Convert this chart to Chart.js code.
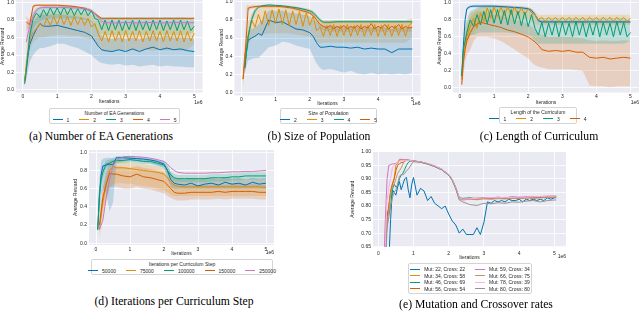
<!DOCTYPE html>
<html lang="en">
<head>
<meta charset="UTF-8">
<title>Ablation curves</title>
<script src="https://cdn.jsdelivr.net/npm/chart.js@4"></script>
<style>
body {
  margin: 0;
  width: 640px;
  height: 315px;
  overflow: hidden;
  background: #fff;
  position: relative;
  font-family: "Liberation Sans", Arial, sans-serif;
}
canvas { position: absolute; }
.legend {
  position: absolute;
  box-sizing: border-box;
  border: 1px solid #d4d4d4;
  border-radius: 2px;
  background: rgba(255, 255, 255, 0.85);
  font-size: 5px;
  line-height: 6.5px;
  color: #262626;
  text-align: center;
  padding-top: 1px;
  white-space: nowrap;
}
.legend .items { display: flex; flex-wrap: nowrap; justify-content: center; gap: 10px; }
.legend .items span { flex: 0 0 auto; }
.legend .grid { display: grid; grid-template-rows: repeat(4, 6.5px); grid-auto-flow: column; column-gap: 10px; justify-content: center; text-align: left; padding-top: 1px; }
.legend i { display: inline-block; width: 10px; height: 1.2px; margin-right: 4px; vertical-align: middle; position: relative; top: -0.5px; }
.cap {
  position: absolute;
  font-family: "Liberation Serif", "Times New Roman", serif;
  font-size: 11.7px;
  line-height: 1;
  color: #000;
  white-space: nowrap;
  transform: translate(-50%, -50%);
}
</style>
</head>
<body>
<script>
// ticks
const ITER_TICKS = [0, 1, 2, 3, 4, 5];
const REWARD_TICKS = [0, 0.2, 0.4, 0.6, 0.8, 1.0];
const REWARD_TICKS_E = [0.65, 0.70, 0.75, 0.80, 0.85, 0.90, 0.95, 1.00];

// iteration checkpoints (x 1e6)
const XB = [0.05,0.1,0.15,0.2,0.3,0.4,0.5,0.6, 0.8,1.0,1.2,1.4,1.6,1.8,2.0,2.1, 2.2,2.3,2.4,2.6,2.8,3.0,3.2,3.4, 3.6,3.8,4.0,4.2,4.4,4.6,4.8,5.0];
const XZ = [0.05,0.1,0.2,0.3,0.4,0.5,0.6,0.7,0.8,0.9, 1.0,1.1,1.2,1.3,1.4,1.5,1.6,1.7,1.8,1.9, 2.0,2.1,2.2,2.3,2.4,2.5,2.6,2.7,2.8,2.9, 3.0,3.1,3.2,3.3,3.4,3.5,3.6,3.7,3.8,3.9, 4.0,4.1,4.2,4.3,4.4,4.5,4.6,4.7,4.8,4.9, 5.0];
const XE = [0.15,0.2,0.25,0.3,0.35,0.4,0.45,0.5,0.55,0.6,0.65,0.7,0.75,0.8,0.85,0.9,0.95,1.0, 1.2,1.4,1.6,1.8,2.0,2.1,2.2,2.3,2.4,2.6,2.8,3.0,3.2,3.4,3.6,3.8,4.0,4.2,4.4,4.6,4.8,5.0,5.05];
const XEB = [0.15,0.2,0.25,0.3,0.35,0.4,0.45,0.5,0.55,0.6,0.65,0.7,0.75,0.8,0.85,0.9,0.95,1.0, 1.1,1.2,1.3,1.4,1.5,1.6,1.7,1.8,1.9,2.0, 2.1,2.2,2.3,2.4,2.5,2.6,2.7,2.8,2.9,3.0, 3.1,3.2,3.3,3.4,3.5,3.6,3.7,3.8,3.9,4.0, 4.1,4.2,4.3,4.4,4.5,4.6,4.7,4.8,4.9,5.0,5.05];

// (a) number of EA generations
const A_LABELS = ['1', '2', '3', '4', '5'];
const A1 = [0.10,0.25,0.40,0.52,0.62,0.70,0.76,0.73, 0.73,0.74,0.72,0.70,0.68,0.66,0.62,0.56, 0.50,0.46,0.45,0.44,0.46,0.44,0.47,0.44, 0.47,0.49,0.46,0.48,0.46,0.47,0.45,0.44];
const A1_LO = [0.05,0.12,0.22,0.32,0.40,0.45,0.48,0.48, 0.50,0.53,0.53,0.50,0.48,0.44,0.40,0.36, 0.33,0.31,0.30,0.29,0.30,0.28,0.29,0.27, 0.28,0.29,0.27,0.28,0.27,0.27,0.26,0.26];
const A1_HI = [0.15,0.38,0.55,0.68,0.78,0.83,0.86,0.86, 0.86,0.87,0.86,0.85,0.84,0.82,0.80,0.74, 0.68,0.62,0.60,0.58,0.60,0.58,0.60,0.58, 0.60,0.62,0.60,0.62,0.60,0.60,0.60,0.58];
const A2 = [0.10,0.28, 0.58,0.66,0.70,0.76,0.72,0.82,0.74,0.84, 0.75,0.85,0.75,0.84,0.74,0.84,0.75,0.83,0.74,0.82, 0.72,0.76,0.64,0.56,0.67,0.55,0.68,0.56,0.67,0.55, 0.68,0.56,0.67,0.56,0.68,0.55,0.67,0.56,0.68,0.56, 0.67,0.55,0.68,0.56,0.67,0.56,0.68,0.55,0.67,0.56, 0.65];
const A2_LO = [0.05,0.15,0.30,0.45,0.55,0.58,0.60,0.60, 0.62,0.63,0.63,0.62,0.62,0.60,0.58,0.55, 0.50,0.45,0.45,0.45,0.46,0.45,0.46,0.45, 0.46,0.45,0.46,0.45,0.46,0.45,0.46,0.52];
const A2_HI = [0.15,0.40,0.60,0.72,0.82,0.85,0.88,0.88, 0.90,0.90,0.90,0.90,0.89,0.88,0.86,0.84, 0.80,0.75,0.74,0.74,0.74,0.74,0.74,0.74, 0.74,0.74,0.74,0.74,0.74,0.74,0.74,0.74];
const A3 = [0.07,0.22, 0.62,0.82,0.88,0.83,0.92,0.85,0.94,0.86, 0.94,0.86,0.95,0.86,0.94,0.85,0.93,0.86,0.93,0.85, 0.91,0.82,0.80,0.69,0.80,0.68,0.80,0.69,0.80,0.68, 0.79,0.69,0.80,0.68,0.80,0.69,0.79,0.68,0.80,0.69, 0.80,0.68,0.79,0.69,0.80,0.68,0.80,0.69,0.79,0.68, 0.73];
const A3_LO = [0.03,0.15,0.35,0.50,0.70,0.76,0.78,0.80, 0.82,0.82,0.82,0.82,0.82,0.80,0.78,0.72, 0.66,0.64,0.63,0.63,0.63,0.63,0.63,0.63, 0.63,0.63,0.63,0.63,0.63,0.63,0.63,0.66];
const A3_HI = [0.12,0.30,0.50,0.72,0.88,0.93,0.95,0.96, 0.96,0.96,0.96,0.96,0.95,0.95,0.93,0.88, 0.85,0.83,0.83,0.83,0.83,0.83,0.83,0.83, 0.83,0.83,0.83,0.83,0.83,0.83,0.83,0.80];
const A4 = [null,0.78,0.76,0.75,0.96,0.97,0.97,0.97, 0.97,0.97,0.965,0.96,0.95,0.935,0.905,0.875, 0.845,0.82,0.82,0.82,0.82,0.82,0.82,0.82, 0.82,0.82,0.82,0.82,0.82,0.82,0.82,0.82];
const A4_LO = [null,0.68,0.70,0.70,0.93,0.96,0.96,0.96, 0.96,0.96,0.955,0.95,0.94,0.92,0.89,0.86, 0.83,0.80,0.80,0.80,0.80,0.80,0.80,0.80, 0.80,0.80,0.80,0.80,0.80,0.80,0.80,0.80];
const A4_HI = [null,0.85,0.82,0.80,0.975,0.98,0.98,0.98, 0.98,0.98,0.975,0.97,0.96,0.945,0.915,0.885, 0.855,0.83,0.83,0.835,0.83,0.835,0.83,0.835, 0.83,0.835,0.83,0.835,0.83,0.835,0.83,0.835];
const A5 = [null,0.55,0.65,0.72,0.85,0.92,0.94,0.945, 0.945,0.945,0.945,0.94,0.94,0.93,0.905,0.87, 0.83,0.785,0.77,0.77,0.765,0.775,0.77,0.765, 0.775,0.77,0.77,0.765,0.775,0.77,0.77,0.77];
const A5_LO = [null,0.45,0.55,0.62,0.78,0.88,0.92,0.93, 0.93,0.93,0.93,0.925,0.92,0.91,0.88,0.84, 0.80,0.75,0.74,0.74,0.735,0.745,0.74,0.735, 0.745,0.74,0.74,0.735,0.745,0.74,0.74,0.74];
const A5_HI = [null,0.78,0.80,0.82,0.90,0.95,0.955,0.96, 0.96,0.96,0.96,0.955,0.955,0.945,0.925,0.895, 0.86,0.815,0.80,0.80,0.795,0.805,0.80,0.795, 0.805,0.80,0.80,0.795,0.805,0.80,0.80,0.80];

// (b) size of population
const B_LABELS = ['2', '3', '4', '5'];
const B2 = [null,0.27,0.45,0.58,0.60,0.62,0.65,0.63, 0.80,0.77,0.78,0.74,0.70,0.69,0.66,0.62, 0.55,0.50,0.50,0.51,0.50,0.50,0.49,0.50, 0.48,0.49,0.48,0.48,0.44,0.48,0.48,0.48];
const B2_LO = [null,0.20,0.30,0.35,0.37,0.38,0.38,0.42, 0.50,0.52,0.56,0.55,0.52,0.50,0.48,0.40, 0.32,0.27,0.25,0.26,0.24,0.22,0.24,0.21, 0.20,0.22,0.20,0.21,0.20,0.21,0.20,0.22];
const B2_HI = [null,0.32,0.55,0.68,0.70,0.72,0.75,0.80, 0.90,0.90,0.90,0.88,0.87,0.86,0.84,0.80, 0.78,0.74,0.73,0.74,0.73,0.73,0.72,0.73, 0.72,0.72,0.72,0.72,0.70,0.72,0.72,0.72];
const B3 = [0.15,0.42, 0.62,0.80,0.72,0.86,0.75,0.90,0.74,0.91, 0.76,0.92,0.75,0.91,0.74,0.90,0.75,0.89,0.73,0.88, 0.74,0.84,0.68,0.72,0.62,0.74,0.63,0.75,0.62,0.74, 0.63,0.75,0.62,0.74,0.63,0.75,0.62,0.74,0.63,0.75, 0.62,0.74,0.63,0.75,0.62,0.74,0.63,0.75,0.62,0.74, 0.77];
const B3_LO = [0.05,0.25,0.40,0.50,0.60,0.62,0.64,0.64, 0.65,0.65,0.65,0.65,0.64,0.63,0.62,0.60, 0.56,0.54,0.55,0.55,0.55,0.55,0.55,0.55, 0.55,0.55,0.55,0.55,0.55,0.55,0.55,0.60];
const B3_HI = [0.20,0.50,0.70,0.78,0.88,0.92,0.94,0.95, 0.95,0.95,0.95,0.94,0.93,0.92,0.90,0.86, 0.82,0.80,0.80,0.80,0.80,0.80,0.80,0.80, 0.80,0.80,0.80,0.80,0.80,0.80,0.80,0.82];
const B4 = [null,0.27,0.45,0.62,0.80,0.90,0.94,0.955, 0.965,0.96,0.955,0.945,0.935,0.92,0.90,0.88, 0.84,0.80,0.775,0.775,0.78,0.78,0.78,0.78, 0.78,0.78,0.78,0.78,0.78,0.78,0.78,0.78];
const B4_LO = [null,0.20,0.38,0.55,0.75,0.87,0.925,0.94, 0.95,0.945,0.94,0.93,0.92,0.905,0.885,0.86, 0.82,0.78,0.76,0.76,0.765,0.765,0.765,0.765, 0.765,0.765,0.765,0.765,0.765,0.765,0.765,0.765];
const B4_HI = [null,0.32,0.52,0.68,0.85,0.93,0.955,0.965, 0.975,0.97,0.965,0.955,0.945,0.93,0.91,0.90, 0.86,0.82,0.79,0.79,0.795,0.795,0.795,0.795, 0.795,0.795,0.795,0.795,0.795,0.795,0.795,0.795];
const B5 = [0.15,0.35, 0.93,0.94,0.945,0.95,0.95,0.95,0.95,0.95, 0.95,0.948,0.945,0.94,0.935,0.93,0.92,0.91,0.90,0.89, 0.875,0.85,0.80,0.75,0.73,0.71,0.74,0.70,0.73,0.71, 0.74,0.70,0.73,0.71,0.74,0.70,0.73,0.71,0.76,0.70, 0.73,0.71,0.75,0.70,0.73,0.71,0.75,0.70,0.73,0.71, 0.72];
const B5_LO = [0.10,0.25,0.75,0.90,0.92,0.93,0.935,0.935, 0.935,0.935,0.93,0.92,0.90,0.88,0.86,0.83, 0.77,0.71,0.68,0.67,0.67,0.67,0.67,0.67, 0.67,0.67,0.67,0.67,0.67,0.67,0.67,0.67];
const B5_HI = [0.20,0.45,0.96,0.955,0.96,0.965,0.965,0.965, 0.965,0.965,0.96,0.955,0.945,0.935,0.92,0.895, 0.86,0.80,0.78,0.78,0.78,0.78,0.78,0.78, 0.78,0.78,0.78,0.78,0.78,0.78,0.78,0.78];

// (c) length of the curriculum
const C_LABELS = ['1', '2', '3', '4'];
const C1 = [0.14,0.50,0.80,0.93,0.955,0.96,0.96,0.96, 0.96,0.96,0.955,0.95,0.945,0.94,0.93,0.91, 0.86,0.79,0.775,0.775,0.775,0.775,0.775,0.775, 0.775,0.775,0.775,0.775,0.775,0.775,0.775,0.775];
const C1_LO = [0.10,0.45,0.75,0.91,0.94,0.945,0.945,0.945, 0.945,0.945,0.94,0.935,0.93,0.925,0.915,0.89, 0.84,0.77,0.76,0.76,0.76,0.76,0.76,0.76, 0.76,0.76,0.76,0.76,0.76,0.76,0.76,0.76];
const C1_HI = [0.18,0.55,0.85,0.95,0.97,0.975,0.975,0.975, 0.975,0.975,0.97,0.965,0.96,0.955,0.945,0.93, 0.88,0.81,0.79,0.79,0.79,0.79,0.79,0.79, 0.79,0.79,0.79,0.79,0.79,0.79,0.79,0.79];
const C2 = [0.10,0.35, 0.60,0.72,0.82,0.70,0.88,0.78,0.94,0.82, 0.95,0.84,0.95,0.85,0.95,0.86,0.95,0.86,0.94,0.86, 0.93,0.88,0.86,0.80,0.83,0.78,0.83,0.79,0.83,0.78, 0.83,0.79,0.83,0.78,0.83,0.79,0.83,0.78,0.83,0.79, 0.83,0.78,0.83,0.79,0.83,0.78,0.83,0.79,0.83,0.78, 0.82];
const C2_LO = [0.03,0.25,0.40,0.50,0.60,0.65,0.72,0.76, 0.78,0.80,0.80,0.80,0.80,0.80,0.80,0.78, 0.75,0.74,0.74,0.74,0.74,0.74,0.74,0.74, 0.74,0.74,0.74,0.74,0.74,0.74,0.74,0.74];
const C2_HI = [0.15,0.45,0.68,0.78,0.88,0.90,0.93,0.96, 0.97,0.97,0.97,0.97,0.965,0.96,0.95,0.93, 0.90,0.86,0.86,0.86,0.86,0.86,0.86,0.86, 0.86,0.86,0.86,0.86,0.86,0.86,0.86,0.86];
const C3 = [0.14,0.45, 0.65,0.80,0.72,0.86,0.74,0.90,0.75,0.92, 0.76,0.92,0.75,0.91,0.74,0.92,0.75,0.90,0.73,0.89, 0.72,0.86,0.70,0.62,0.77,0.60,0.76,0.62,0.78,0.60, 0.77,0.62,0.76,0.60,0.78,0.62,0.77,0.60,0.76,0.62, 0.78,0.60,0.77,0.62,0.76,0.60,0.78,0.62,0.77,0.60, 0.65];
const C3_LO = [0.08,0.35,0.50,0.55,0.62,0.62,0.64,0.65, 0.65,0.65,0.65,0.65,0.64,0.63,0.62,0.60, 0.55,0.52,0.52,0.52,0.52,0.52,0.52,0.52, 0.52,0.52,0.52,0.52,0.52,0.52,0.52,0.55];
const C3_HI = [0.20,0.55,0.72,0.80,0.90,0.92,0.94,0.95, 0.95,0.95,0.95,0.95,0.94,0.94,0.92,0.90, 0.85,0.82,0.82,0.82,0.82,0.82,0.82,0.82, 0.82,0.82,0.82,0.82,0.82,0.82,0.82,0.80];
const C4 = [0.04,0.30,0.45,0.55,0.65,0.72,0.75,0.77, 0.75,0.73,0.71,0.68,0.66,0.63,0.60,0.57, 0.54,0.50,0.45,0.43,0.44,0.43,0.44,0.42, 0.42,0.36,0.35,0.36,0.34,0.35,0.36,0.35];
const C4_LO = [0.00,0.15,0.30,0.38,0.45,0.55,0.60,0.60, 0.60,0.58,0.55,0.50,0.45,0.40,0.35,0.30, 0.27,0.25,0.24,0.22,0.22,0.22,0.22,0.21, 0.20,0.03,0.02,0.02,0.01,0.02,0.02,0.02];
const C4_HI = [0.08,0.45,0.60,0.72,0.82,0.87,0.90,0.90, 0.88,0.86,0.84,0.82,0.80,0.78,0.75,0.72, 0.68,0.64,0.62,0.60,0.60,0.60,0.60,0.59, 0.58,0.56,0.55,0.56,0.55,0.55,0.56,0.55];

// (d) iterations per curriculum step
const D_LABELS = ['50000', '75000', '100000', '150000', '250000'];
const D1 = [0.15,0.50,0.75,0.85,0.86,0.87,0.86,0.94, 0.94,0.935,0.93,0.925,0.915,0.90,0.87,0.80, 0.70,0.66,0.65,0.64,0.66,0.63,0.65,0.66, 0.64,0.67,0.65,0.66,0.64,0.67,0.65,0.66];
const D1_LO = [0.05,0.30,0.50,0.60,0.55,0.35,0.45,0.88, 0.90,0.90,0.90,0.89,0.88,0.86,0.83,0.72, 0.62,0.60,0.60,0.60,0.60,0.60,0.60,0.60, 0.60,0.60,0.60,0.60,0.60,0.60,0.60,0.60];
const D1_HI = [0.25,0.70,0.90,0.93,0.94,0.94,0.94,0.96, 0.96,0.955,0.95,0.945,0.935,0.92,0.90,0.86, 0.78,0.72,0.71,0.70,0.72,0.70,0.71,0.72, 0.70,0.73,0.71,0.72,0.70,0.72,0.71,0.72];
const D2 = [null,0.15,0.30,0.45,0.65,0.80,0.84,0.83, 0.83,0.82,0.81,0.80,0.79,0.78,0.76,0.72, 0.67,0.64,0.63,0.62,0.62,0.62,0.62,0.62, 0.62,0.62,0.62,0.62,0.62,0.62,0.62,0.61];
const D2_LO = [null,0.05,0.15,0.30,0.45,0.60,0.65,0.66, 0.66,0.65,0.64,0.63,0.62,0.60,0.58,0.56, 0.53,0.52,0.52,0.52,0.52,0.52,0.52,0.52, 0.52,0.52,0.52,0.52,0.52,0.52,0.52,0.52];
const D2_HI = [null,0.25,0.45,0.60,0.80,0.90,0.92,0.91, 0.90,0.89,0.88,0.87,0.86,0.85,0.83,0.80, 0.75,0.72,0.71,0.71,0.71,0.71,0.71,0.71, 0.71,0.71,0.71,0.71,0.71,0.71,0.71,0.70];
const D3 = [0.15,0.55,0.70,0.78,0.87,0.88,0.90,0.91, 0.91,0.92,0.91,0.90,0.90,0.88,0.86,0.80, 0.75,0.72,0.71,0.71,0.71,0.71,0.71,0.72, 0.72,0.72,0.73,0.73,0.74,0.74,0.74,0.74];
const D3_LO = [0.10,0.45,0.62,0.72,0.83,0.85,0.87,0.88, 0.88,0.89,0.88,0.87,0.87,0.85,0.83,0.76, 0.71,0.68,0.67,0.67,0.67,0.67,0.67,0.68, 0.68,0.68,0.69,0.69,0.70,0.70,0.70,0.70];
const D3_HI = [0.20,0.65,0.78,0.84,0.91,0.92,0.93,0.94, 0.94,0.95,0.94,0.93,0.93,0.91,0.89,0.84, 0.79,0.76,0.75,0.75,0.75,0.75,0.75,0.76, 0.76,0.76,0.77,0.77,0.78,0.78,0.78,0.78];
const D4 = [null,0.20,0.35,0.50,0.65,0.77,0.76,0.76, 0.74,0.73,0.76,0.73,0.72,0.70,0.68,0.64, 0.60,0.56,0.55,0.55,0.56,0.56,0.56,0.56, 0.57,0.56,0.57,0.57,0.57,0.57,0.56,0.56];
const D4_LO = [null,0.10,0.25,0.38,0.50,0.62,0.62,0.62, 0.60,0.60,0.62,0.60,0.59,0.57,0.55,0.52, 0.50,0.48,0.47,0.47,0.48,0.48,0.48,0.48, 0.49,0.48,0.49,0.49,0.49,0.49,0.48,0.48];
const D4_HI = [null,0.30,0.45,0.60,0.76,0.86,0.85,0.85, 0.84,0.83,0.85,0.83,0.82,0.80,0.78,0.74, 0.70,0.65,0.63,0.63,0.64,0.64,0.64,0.64, 0.65,0.64,0.65,0.65,0.65,0.65,0.64,0.64];
const D5 = [null,0.15,0.20,0.25,0.50,0.70,0.85,0.91, 0.95,0.955,0.95,0.945,0.935,0.92,0.90,0.87, 0.83,0.80,0.78,0.77,0.77,0.77,0.77,0.775, 0.775,0.78,0.785,0.785,0.79,0.79,0.795,0.80];

// (e) mutation and crossover rates
const E_LABELS = ['Mut: 22, Cross: 22', 'Mut: 34, Cross: 58', 'Mut: 46, Cross: 69', 'Mut: 56, Cross: 54',
                  'Mut: 59, Cross: 34', 'Mut: 66, Cross: 75', 'Mut: 78, Cross: 39', 'Mut: 80, Cross: 80'];
const E1 = [0.30,0.40,0.50,0.60,0.75,0.86,0.85,0.84,0.87,0.89,0.86,0.88,0.90,0.905,0.86,0.83,0.88,0.905, 0.84,0.865,0.855,0.82,0.835,0.81,0.80,0.79,0.80,0.77, 0.745,0.73,0.70,0.715,0.695,0.695,0.695,0.72,0.695,0.74, 0.815,0.81,0.82,0.815,0.82,0.815,0.825,0.82,0.82,0.825, 0.815,0.825,0.82,0.825,0.82,0.825,0.82,0.83,0.825,0.83,0.83];
const E2 = [0.50,0.60,0.75,0.80,0.86,0.88,0.90,0.95,0.955,0.97,0.97,0.97,0.97,0.969,0.968,0.967,0.966,0.965, 0.962,0.955,0.946,0.934,0.914,0.896,0.866,0.828,0.824,0.826,0.829,0.828,0.83,0.828,0.831,0.829,0.83,0.832,0.83,0.833,0.834,0.835,0.835];
const E3 = [0.45,0.60,0.78,0.77,0.80,0.86,0.88,0.87,0.875,0.90,0.915,0.92,0.935,0.95,0.96,0.965,0.966,0.966, 0.962,0.955,0.946,0.934,0.914,0.896,0.866,0.83,0.828,0.83,0.826,0.831,0.829,0.832,0.83,0.833,0.831,0.83,0.834,0.832,0.835,0.834,0.834];
const E4 = [0.50,0.65,0.76,0.80,0.85,0.88,0.90,0.93,0.95,0.955,0.96,0.96,0.965,0.97,0.969,0.968,0.967,0.966, 0.962,0.955,0.947,0.935,0.915,0.897,0.867,0.827,0.825,0.828,0.826,0.829,0.827,0.83,0.828,0.83,0.829,0.832,0.83,0.831,0.833,0.834,0.834];
const E5 = [0.55,0.75,0.90,0.95,0.952,0.955,0.955,0.957,0.96,0.972,0.972,0.971,0.97,0.97,0.969,0.968,0.967,0.966, 0.963,0.956,0.948,0.936,0.916,0.898,0.868,0.829,0.826,0.829,0.828,0.83,0.829,0.832,0.83,0.833,0.832,0.834,0.833,0.835,0.836,0.837,0.837];
const E6 = [0.50,0.62,0.74,0.78,0.85,0.87,0.88,0.90,0.92,0.93,0.94,0.955,0.965,0.968,0.968,0.967,0.966,0.965, 0.962,0.955,0.946,0.934,0.914,0.895,0.865,0.826,0.822,0.825,0.823,0.826,0.825,0.827,0.826,0.828,0.827,0.829,0.828,0.83,0.831,0.832,0.832];
const E7 = [0.50,0.65,0.82,0.87,0.90,0.94,0.95,0.955,0.96,0.965,0.965,0.966,0.967,0.968,0.968,0.967,0.966,0.965, 0.962,0.955,0.947,0.935,0.915,0.897,0.867,0.828,0.825,0.827,0.828,0.83,0.831,0.83,0.832,0.831,0.833,0.832,0.834,0.835,0.836,0.836,0.836];
const E8 = [0.45,0.55,0.72,0.76,0.80,0.83,0.85,0.86,0.88,0.91,0.915,0.915,0.92,0.93,0.935,0.945,0.955,0.963, 0.961,0.954,0.945,0.933,0.913,0.894,0.864,0.822,0.815,0.805,0.802,0.81,0.808,0.812,0.81,0.815,0.814,0.818,0.82,0.815,0.82,0.822,0.822];

// seaborn colorblind palette
const PALETTE = ['#0173B2', '#DE8F05', '#029E73', '#D55E00', '#CC78BC', '#CA9161', '#FBAFE4', '#949494'];
const TEXT = '#262626';
const FONT = { family: '"Liberation Sans", Arial, sans-serif', size: 5 };

function rgba(hex, a) {
  const n = parseInt(hex.slice(1), 16);
  return 'rgba(' + (n >> 16) + ',' + ((n >> 8) & 255) + ',' + (n & 255) + ',' + a + ')';
}

function pts(xs, ys) {
  const out = [];
  ys.forEach((y, i) => { if (y !== null) out.push({ x: xs[i], y: y }); });
  return out;
}

const plotBg = {
  id: 'plotBg',
  beforeDraw(chart) {
    const { ctx, chartArea: a } = chart;
    ctx.save();
    ctx.fillStyle = '#EAEAF2';
    ctx.fillRect(a.left, a.top, a.right - a.left, a.bottom - a.top);
    ctx.restore();
  }
};

const expLabel = {
  id: 'expLabel',
  afterDraw(chart, args, opts) {
    const { ctx, chartArea: a } = chart;
    ctx.save();
    ctx.font = '5px "Liberation Sans", Arial, sans-serif';
    ctx.fillStyle = TEXT;
    ctx.textAlign = 'right';
    ctx.textBaseline = 'middle';
    ctx.fillText('1e6', a.right, a.bottom + opts.dy);
    ctx.restore();
  }
};

function makePanel(L, series, yTicks, yDigits) {
  const [pl, pt, pr, pb] = L.plot;
  const left = Math.floor(pl - L.yw - 2);
  const top = Math.floor(pt - 6);
  const W = Math.ceil(pr + 4 - left);
  const H = Math.ceil(pb + L.xh + 2 - top);
  const pad = { left: pl - L.yw - left, top: pt - top, right: left + W - pr, bottom: top + H - pb - L.xh };

  const cv = document.createElement('canvas');
  cv.width = W; cv.height = H;
  cv.style.left = left + 'px'; cv.style.top = top + 'px';
  cv.style.width = W + 'px'; cv.style.height = H + 'px';
  document.body.appendChild(cv);

  const ds = [];
  series.forEach((s, i) => {
    const col = PALETTE[s.c];
    if (s.lo) {
      ds.push({ data: pts(s.bx, s.lo), borderColor: 'rgba(0,0,0,0)', borderWidth: 0, pointRadius: 0, fill: false, order: 100 });
      ds.push({ data: pts(s.bx, s.hi), borderColor: 'rgba(0,0,0,0)', borderWidth: 0, pointRadius: 0, fill: '-1', backgroundColor: rgba(col, 0.2), order: 100 });
    }
    ds.push({ data: pts(s.xs, s.ys), borderColor: col, borderWidth: 1, pointRadius: 0, fill: false, tension: 0, order: 50 - i });
  });

  new Chart(cv, {
    type: 'line',
    data: { datasets: ds },
    options: {
      responsive: false,
      animation: false,
      events: [],
      layout: { padding: pad },
      plugins: {
        legend: { display: false },
        tooltip: { enabled: false },
        filler: { drawTime: 'beforeDatasetsDraw' },
        expLabel: { dy: L.exp }
      },
      scales: {
        x: {
          type: 'linear', min: L.x[0], max: L.x[1],
          afterBuildTicks: s => { s.ticks = ITER_TICKS.map(v => ({ value: v })); },
          afterFit: s => { s.height = L.xh; },
          grid: { color: '#ffffff', lineWidth: 0.8, drawTicks: false },
          border: { display: false },
          ticks: { font: FONT, color: TEXT, padding: L.tp, autoSkip: false, maxRotation: 0, callback: v => String(v) },
          title: { display: true, text: 'Iterations', font: FONT, color: TEXT, padding: 0 }
        },
        y: {
          type: 'linear', min: L.y[0], max: L.y[1],
          afterBuildTicks: s => { s.ticks = yTicks.map(v => ({ value: v })); },
          afterFit: s => { s.width = L.yw; },
          grid: { color: '#ffffff', lineWidth: 0.8, drawTicks: false },
          border: { display: false },
          ticks: { font: FONT, color: TEXT, padding: 2, autoSkip: false, callback: v => v.toFixed(yDigits) },
          title: { display: true, text: 'Average Reward', font: FONT, color: TEXT, padding: 0 }
        }
      }
    },
    plugins: [plotBg, expLabel]
  });

  // legend
  const lg = document.createElement('div');
  lg.className = 'legend';
  Object.assign(lg.style, { left: L.legend[0] + 'px', top: L.legend[1] + 'px', width: L.legend[2] + 'px', height: L.legend[3] + 'px' });
  if (L.title) {
    const t = document.createElement('div');
    t.textContent = L.title;
    lg.appendChild(t);
  }
  const items = document.createElement('div');
  items.className = L.cols === 2 ? 'grid' : 'items';
  series.forEach(s => {
    const it = document.createElement('span');
    const sw = document.createElement('i');
    sw.style.background = PALETTE[s.c];
    it.appendChild(sw);
    it.appendChild(document.createTextNode(s.label));
    items.appendChild(it);
  });
  lg.appendChild(items);
  document.body.appendChild(lg);

  // caption
  const cap = document.createElement('div');
  cap.className = 'cap';
  cap.textContent = L.caption;
  cap.style.left = L.cap[0] + 'px';
  cap.style.top = L.cap[1] + 'px';
  document.body.appendChild(cap);
}

makePanel(
  { plot: [16, 0, 202.5, 92.6], x: [-0.2, 5.24], y: [-0.03, 1.03], yw: 16, xh: 12.4, tp: 1.5, exp: 10.5,
    legend: [49, 108, 131, 16], title: 'Number of EA Generations', cap: [101, 137], caption: '(a) Number of EA Generations' },
  [
    { label: A_LABELS[0], c: 0, xs: XB, ys: A1, bx: XB, lo: A1_LO, hi: A1_HI },
    { label: A_LABELS[1], c: 1, xs: XZ, ys: A2, bx: XB, lo: A2_LO, hi: A2_HI },
    { label: A_LABELS[2], c: 2, xs: XZ, ys: A3, bx: XB, lo: A3_LO, hi: A3_HI },
    { label: A_LABELS[3], c: 3, xs: XB, ys: A4, bx: XB, lo: A4_LO, hi: A4_HI },
    { label: A_LABELS[4], c: 4, xs: XB, ys: A5, bx: XB, lo: A5_LO, hi: A5_HI }
  ], REWARD_TICKS, 1);

makePanel(
  { plot: [234.5, 0, 420.5, 95.5], x: [-0.2, 5.24], y: [-0.031, 1.019], yw: 16, xh: 11.5, tp: 1.5, exp: 8.5,
    legend: [280, 108, 97, 16], title: 'Size of Population', cap: [319, 137], caption: '(b) Size of Population' },
  [
    { label: B_LABELS[0], c: 0, xs: XB, ys: B2, bx: XB, lo: B2_LO, hi: B2_HI },
    { label: B_LABELS[1], c: 1, xs: XZ, ys: B3, bx: XB, lo: B3_LO, hi: B3_HI },
    { label: B_LABELS[2], c: 2, xs: XB, ys: B4, bx: XB, lo: B4_LO, hi: B4_HI },
    { label: B_LABELS[3], c: 3, xs: XZ, ys: B5, bx: XB, lo: B5_LO, hi: B5_HI }
  ], REWARD_TICKS, 1);

makePanel(
  { plot: [453, 0, 639, 92.5], x: [-0.205, 5.25], y: [-0.053, 1.032], yw: 16, xh: 13.5, tp: 1.5, exp: 10.5,
    legend: [499, 107, 78, 17], title: 'Length of the Curriculum', cap: [539, 137], caption: '(c) Length of Curriculum' },
  [
    { label: C_LABELS[0], c: 0, xs: XB, ys: C1, bx: XB, lo: C1_LO, hi: C1_HI },
    { label: C_LABELS[1], c: 1, xs: XZ, ys: C2, bx: XB, lo: C2_LO, hi: C2_HI },
    { label: C_LABELS[2], c: 2, xs: XZ, ys: C3, bx: XB, lo: C3_LO, hi: C3_HI },
    { label: C_LABELS[3], c: 3, xs: XB, ys: C4, bx: XB, lo: C4_LO, hi: C4_HI }
  ], REWARD_TICKS, 1);

makePanel(
  { plot: [89, 150, 274, 245], x: [-0.206, 5.235], y: [-0.019, 1.025], yw: 16, xh: 12, tp: 1.5, exp: 8,
    legend: [91, 259, 182, 16], title: 'Iterations per Curriculum Step', cap: [174, 302], caption: '(d) Iterations per Curriculum Step' },
  [
    { label: D_LABELS[0], c: 0, xs: XB, ys: D1, bx: XB, lo: D1_LO, hi: D1_HI },
    { label: D_LABELS[1], c: 1, xs: XB, ys: D2, bx: XB, lo: D2_LO, hi: D2_HI },
    { label: D_LABELS[2], c: 2, xs: XB, ys: D3, bx: XB, lo: D3_LO, hi: D3_HI },
    { label: D_LABELS[3], c: 3, xs: XB, ys: D4, bx: XB, lo: D4_LO, hi: D4_HI },
    { label: D_LABELS[4], c: 4, xs: XB, ys: D5 }
  ], REWARD_TICKS, 1);

makePanel(
  { plot: [373, 151.7, 566, 246.7], x: [-0.15, 5.33], y: [0.65, 1.0], yw: 23, xh: 14.3, tp: 3.5, exp: 10.3,
    legend: [408, 263, 124, 31], cols: 2, cap: [476, 305], caption: '(e) Mutation and Crossover rates' },
  [
    { label: E_LABELS[0], c: 0, xs: XEB, ys: E1 },
    { label: E_LABELS[1], c: 1, xs: XE, ys: E2 },
    { label: E_LABELS[2], c: 2, xs: XE, ys: E3 },
    { label: E_LABELS[3], c: 3, xs: XE, ys: E4 },
    { label: E_LABELS[4], c: 4, xs: XE, ys: E5 },
    { label: E_LABELS[5], c: 5, xs: XE, ys: E6 },
    { label: E_LABELS[6], c: 6, xs: XE, ys: E7 },
    { label: E_LABELS[7], c: 7, xs: XE, ys: E8 }
  ], REWARD_TICKS_E, 2);
</script>
</body>
</html>
